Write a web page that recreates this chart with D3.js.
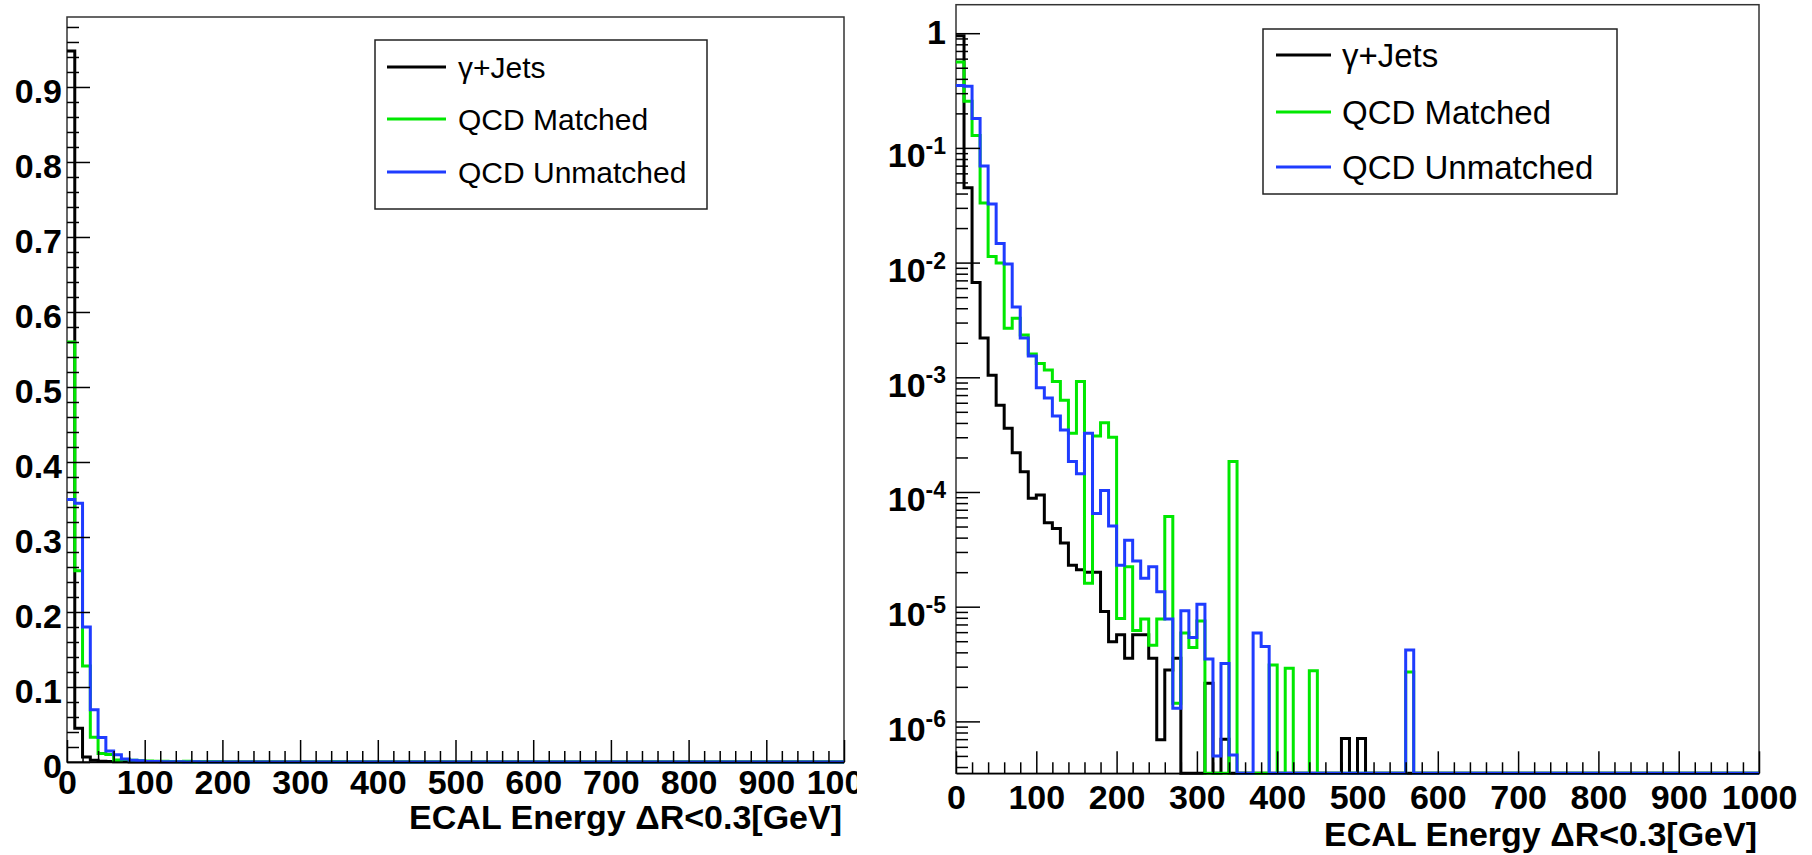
<!DOCTYPE html>
<html>
<head>
<meta charset="utf-8">
<script src="https://cdn.jsdelivr.net/npm/d3@7"></script>
<style>
body{margin:0;background:#fff}
svg{display:block}
text{font-family:"Liberation Sans",Arial,Helvetica,sans-serif}
.tick text,.axtitle{font-weight:bold}
</style>
</head>
<body>
<svg id="chart" width="1812" height="855"></svg>
<script>
'use strict'

// 10 GeV bins, 0-1000 GeV; bins not listed are empty
const binWidth = 10
const nBins = 100

const seriesNames = ["\u03b3+Jets", "QCD Matched", "QCD Unmatched"]
const seriesColors = ["#000000", "#00e800", "#1f3cff"]

const gammaJets = [
  0.948, 0.045, 0.0067, 0.0022, 0.00104, 0.00057, 0.00036, 0.00022, 0.00015, 8.8e-5,
  9.4e-5, 5.4e-5, 4.8e-5, 3.6e-5, 2.3e-5, 2.1e-5, 2.0e-5, 2.0e-5, 9.1e-6, 4.95e-6,
  5.7e-6, 3.55e-6, 5.7e-6, 5.7e-6, 3.55e-6, 6.9e-7, 2.8e-6, 3.55e-6, 0, 0,
  0, 2.15e-6, 0, 7e-7, 0, 0, 0, 0, 0, 0,
  0, 0, 0, 0, 0, 0, 0, 0, 7.1e-7, 0,
  7.1e-7, 0, 0, 0, 0, 0, 0, 0, 0, 0
]
const qcdMatched = [
  0.56, 0.255, 0.128, 0.033, 0.0113, 0.0099, 0.00267, 0.00327, 0.00234, 0.0016,
  0.00132, 0.00116, 0.00092, 0.00063, 0.000325, 0.00092, 1.6e-5, 0.000308, 0.000402, 0.0003,
  7.9e-6, 2.23e-5, 6.2e-6, 7.8e-6, 4.6e-6, 7.8e-6, 6.1e-5, 1.44e-6, 5.9e-6, 4.4e-6,
  7.5e-6, 0, 0, 0, 0.000184, 0, 0, 0, 0, 3.1e-6,
  0, 2.9e-6, 0, 0, 2.77e-6, 0, 0, 0, 0, 0,
  0, 0, 0, 0, 0, 0, 2.7e-6, 0, 0, 0
]
const qcdUnmatched = [
  0.35, 0.345, 0.18, 0.0695, 0.0325, 0.0147, 0.0097, 0.0041, 0.0022, 0.00153,
  0.00081, 0.00066, 0.00046, 0.000347, 0.000184, 0.000144, 0.000325, 6.5e-5, 0.000103, 5.05e-5,
  2.3e-5, 3.8e-5, 2.5e-5, 1.77e-5, 2.23e-5, 1.35e-5, 7.8e-6, 1.3e-6, 9.2e-6, 5.4e-6,
  1.05e-5, 3.5e-6, 5.0e-7, 3.2e-6, 5.1e-7, 0, 0, 5.9e-6, 4.5e-6, 0,
  0, 0, 0, 0, 0, 0, 0, 0, 0, 0,
  0, 0, 0, 0, 0, 0, 4.2e-6, 0, 0, 0
]
const allSeries = [gammaJets, qcdMatched, qcdUnmatched]

const xMajorTicks = [0, 100, 200, 300, 400, 500, 600, 700, 800, 900, 1000]
const linMajorTicks = [0, 0.1, 0.2, 0.3, 0.4, 0.5, 0.6, 0.7, 0.8, 0.9]
const logMajorTicks = [1e-6, 1e-5, 1e-4, 1e-3, 1e-2, 1e-1, 1]

const svg = d3.select("#chart")
const defs = svg.append("defs")

function bins(values){
  return d3.range(nBins + 1).map(i => ({e: i * binWidth, v: values[Math.min(i, nBins - 1)] || 0}))
}

function drawPanel(o){
  const root = svg.append("g")
  if (o.clipW) {
    defs.append("clipPath").attr("id", o.id + "-clip")
      .append("rect").attr("x", 0).attr("y", 0).attr("width", o.clipW).attr("height", 855)
    root.attr("clip-path", `url(#${o.id}-clip)`)
  }

  const x = d3.scaleLinear().domain([0, 1000]).range([o.left, o.right])
  const y = o.log
    ? d3.scaleLog().domain(o.yDomain).range([o.bottom, o.top])
    : d3.scaleLinear().domain(o.yDomain).range([o.bottom, o.top])
  const yv = v => o.log ? y(Math.max(v, o.yDomain[0])) : y(v)

  // frame
  root.append("rect")
    .attr("x", o.left).attr("y", o.top)
    .attr("width", o.right - o.left).attr("height", o.bottom - o.top)
    .attr("fill", "none").attr("stroke", "#333").attr("stroke-width", 1.5)

  // histograms
  const line = d3.line().x(d => x(d.e)).y(d => yv(d.v)).curve(d3.curveStepAfter)
  allSeries.forEach((s, i) => {
    root.append("path").datum(bins(s))
      .attr("d", line)
      .attr("fill", "none")
      .attr("stroke", seriesColors[i])
      .attr("stroke-width", 3)
  })

  // x axis
  const xMinor = d3.range(0, 51).map(i => i * 20).filter(v => v % 100 !== 0)
  root.append("g").attr("transform", `translate(0,${o.bottom})`)
    .call(d3.axisBottom(x).tickValues(xMinor).tickSize(-11).tickFormat(""))
    .call(g => g.select(".domain").remove())
  root.append("g").attr("transform", `translate(0,${o.bottom})`)
    .call(d3.axisBottom(x).tickValues(xMajorTicks).tickSizeInner(-22).tickSizeOuter(0)
      .tickPadding(o.xPad).tickFormat(d3.format("d")))
    .call(g => g.select(".domain").attr("stroke", "#000").attr("stroke-width", 1.5))
    .call(g => g.selectAll(".tick text").attr("font-size", 34).attr("fill", "#000"))
  root.selectAll(".tick line").attr("stroke", "#000").attr("stroke-width", 1.5)

  // y axis
  const yAxisG = root.append("g").attr("transform", `translate(${o.left},0)`)
  if (!o.log) {
    const yMinor = d3.range(0, 50).filter(i => i % 5 !== 0).map(i => i * 0.02)
    yAxisG.call(d3.axisLeft(y).tickValues(yMinor).tickSize(-12).tickFormat(""))
      .call(g => g.select(".domain").remove())
    root.append("g").attr("transform", `translate(${o.left},0)`)
      .call(d3.axisLeft(y).tickValues(linMajorTicks).tickSizeInner(-23).tickSizeOuter(0)
        .tickPadding(5).tickFormat(d => d === 0 ? "0" : d3.format(".1f")(d)))
      .call(g => g.select(".domain").remove())
      .call(g => g.selectAll(".tick text").attr("font-size", 34).attr("dy", "0.47em").attr("fill", "#000"))
  } else {
    const yMinor = y.ticks().filter(v => Math.abs(Math.log10(v) - Math.round(Math.log10(v))) > 1e-6)
      .filter(v => v >= o.yDomain[0] && v <= o.yDomain[1])
    yAxisG.call(d3.axisLeft(y).tickValues(yMinor).tickSize(-12).tickFormat(""))
      .call(g => g.select(".domain").remove())
    root.append("g").attr("transform", `translate(${o.left},0)`)
      .call(d3.axisLeft(y).tickValues(logMajorTicks).tickSizeInner(-24).tickSizeOuter(0).tickFormat(""))
      .call(g => g.select(".domain").remove())
    const lab = root.append("g").attr("class", "tick").attr("font-size", 34).attr("text-anchor", "end")
    logMajorTicks.forEach(v => {
      const k = Math.round(Math.log10(v))
      const ty = y(v)
      if (k === 0) {
        lab.append("text").attr("x", o.left - 10).attr("y", ty + 11).text("1")
      } else {
        const t = lab.append("text").attr("x", o.left - 10).attr("y", ty + 19.5)
        t.append("tspan").text("10")
        t.append("tspan").attr("dy", -13.5).attr("font-size", 23).text(String(k))
      }
    })
  }
  root.selectAll(".tick line").attr("stroke", "#000").attr("stroke-width", 1.5)

  // axis title
  root.append("text").attr("class", "axtitle")
    .attr("x", o.right - 2).attr("y", o.titleY)
    .attr("text-anchor", "end").attr("font-size", 34)
    .text("ECAL Energy \u0394R<0.3[GeV]")

  // legend
  const L = o.legend
  const lg = root.append("g")
  lg.append("rect").attr("x", L.x).attr("y", L.y).attr("width", L.w).attr("height", L.h)
    .attr("fill", "#fff").attr("stroke", "#222").attr("stroke-width", 1.5)
  seriesNames.forEach((name, i) => {
    const ry = L.rows[i]
    lg.append("line").attr("x1", L.lx0).attr("x2", L.lx1).attr("y1", ry).attr("y2", ry)
      .attr("stroke", seriesColors[i]).attr("stroke-width", 3)
    lg.append("text")
      .attr("x", L.tx).attr("y", ry + L.fs * 0.35)
      .attr("font-size", L.fs).attr("fill", "#000")
      .text(name)
  })
}

drawPanel({
  id: "lin", left: 67, right: 844, top: 17, bottom: 762, clipW: 857,
  log: false, yDomain: [0, 0.9933], xPad: 8, titleY: 829,
  legend: {x: 375, y: 40, w: 332, h: 169, rows: [67, 119, 172], lx0: 387, lx1: 446, tx: 458, fs: 30}
})

drawPanel({
  id: "log", left: 956, right: 1759, top: 4.7, bottom: 773.3,
  log: true, yDomain: [3.527e-7, 1.772], xPad: 11.5, titleY: 846,
  legend: {x: 1263, y: 29, w: 354, h: 165, rows: [55, 112, 167], lx0: 1276, lx1: 1331, tx: 1342, fs: 33}
})
</script>
</body>
</html>
